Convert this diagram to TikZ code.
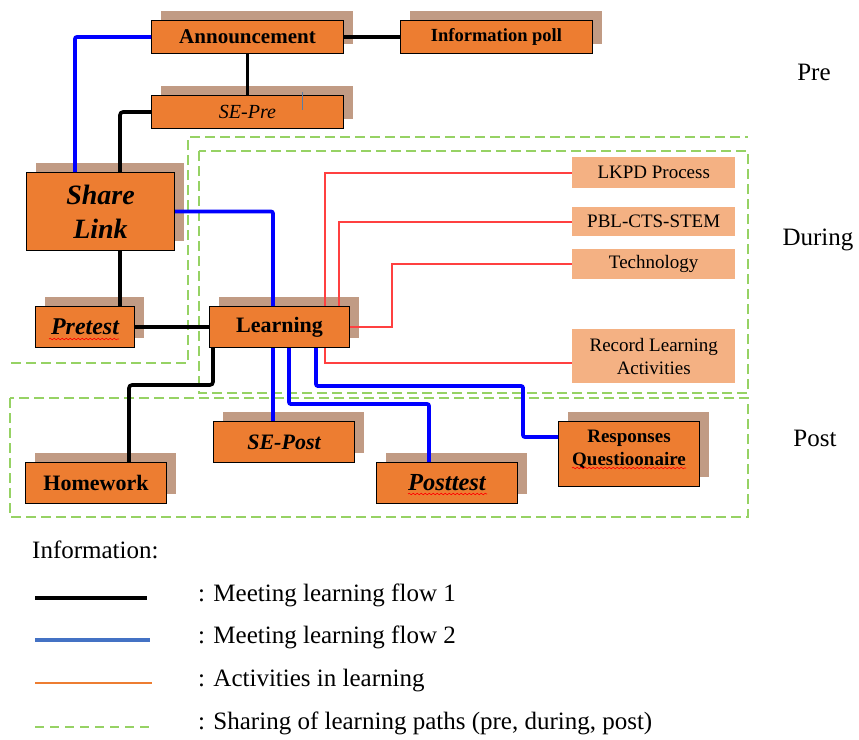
\documentclass[tikz,border=0pt]{standalone}
\usepackage{fontspec}
\setmainfont{Liberation Serif}
\usetikzlibrary{calc,shadows,decorations.pathmorphing}
\definecolor{boxor}{RGB}{237,125,49}
\definecolor{shad}{RGB}{193,155,132}
\definecolor{lightor}{RGB}{244,177,131}
\definecolor{gdash}{RGB}{150,210,100}
\definecolor{bluel}{RGB}{0,0,255}
\definecolor{legblue}{RGB}{68,114,196}
\definecolor{redl}{RGB}{255,64,64}
\definecolor{cursorc}{RGB}{90,125,165}
\tikzset{
  mainbox/.style={draw=black, line width=1pt, fill=boxor, inner sep=0pt, anchor=north west, align=center,
    general shadow={fill=shad, shadow xshift=9pt, shadow yshift=10pt}},
  actbox/.style={fill=lightor, inner sep=0pt, anchor=north west, align=center, font=\fontsize{19}{23}\selectfont},
  blkline/.style={draw=black, line width=3.6pt, rounded corners=3pt},
  bluline/.style={draw=bluel, line width=3.8pt, rounded corners=2pt},
  redline/.style={draw=redl, line width=1.6pt},
  grndash/.style={draw=gdash, line width=1.3pt, dash pattern=on 10pt off 5pt},
  lbl/.style={font=\fontsize{25}{30}\selectfont, inner sep=0pt},
  legtxt/.style={font=\fontsize{25}{30}\selectfont, inner sep=0pt, anchor=west},
  spellred/.style={draw=red, line width=0.6pt, decorate, decoration={snake, segment length=4pt, amplitude=0.8pt}}
}
\begin{document}
\begin{tikzpicture}[x=1pt,y=-1pt]
\useasboundingbox (0,0) rectangle (859,739);
% dashed regions
\draw[grndash] (11,363) -- (188,363) -- (188,137) -- (748,137);
\draw[grndash] (199,151) rectangle (748,393);
\draw[grndash] (10,398) rectangle (748,517);
% main boxes
\node[mainbox, minimum width=192pt, minimum height=33pt, font=\bfseries\fontsize{21}{25}\selectfont] (ann) at (151,20) {Announcement};
\node[mainbox, minimum width=192pt, minimum height=33pt, font=\bfseries\fontsize{18.5}{22}\selectfont] (info) at (400,20) {Information poll};
\node[mainbox, minimum width=192pt, minimum height=33pt, font=\itshape\fontsize{20}{24}\selectfont] (sepre) at (151,95) {SE-Pre};
\node[mainbox, minimum width=148pt, minimum height=78pt, font=\bfseries\itshape\fontsize{28}{34}\selectfont] (share) at (26,172) {Share\\Link};
\node[mainbox, minimum width=99pt, minimum height=41pt, font=\bfseries\itshape\fontsize{24}{28}\selectfont] (pretest) at (35,306) {Pretest};
\node[mainbox, minimum width=140pt, minimum height=41pt, font=\bfseries\fontsize{22}{26}\selectfont] (learn) at (209,306) {Learning};
\node[mainbox, minimum width=141pt, minimum height=41pt, font=\bfseries\itshape\fontsize{22}{26}\selectfont] (sepost) at (213,421) {SE-Post};
\node[mainbox, minimum width=141pt, minimum height=41pt, font=\bfseries\fontsize{22}{26}\selectfont] (hw) at (25,462) {Homework};
\node[mainbox, minimum width=141pt, minimum height=41pt, font=\bfseries\itshape\fontsize{24.5}{28}\selectfont] (posttest) at (376,462) {Posttest};
\node[mainbox, minimum width=141pt, minimum height=65pt, font=\bfseries\fontsize{19}{24}\selectfont] (resp) at (558,421) {\raisebox{5pt}[\height][\depth]{\begin{tabular}{@{}c@{}}Responses\\[-1pt]Questioonaire\end{tabular}}};
% activity boxes
\node[actbox, minimum width=163pt, minimum height=31pt] (lkpd) at (572,157) {LKPD Process};
\node[actbox, minimum width=163pt, minimum height=29pt] (pbl) at (572,207) {PBL-CTS-STEM};
\node[actbox, minimum width=163pt, minimum height=30pt] (tech) at (572,249) {Technology};
\node[actbox, minimum width=163pt, minimum height=54pt] (rec) at (572,329) {Record Learning\\Activities};
% black connectors (flow 1)
\draw[blkline] (ann.east) -- (info.west);
\draw[blkline] (ann.south) -- (sepre.north);
\draw[blkline] (sepre.west) -| ($(share.north west)+(94,0)$);
\draw[blkline] ($(share.south west)+(94,0)$) -- ($(pretest.north west)+(85,0)$);
\draw[blkline] (pretest.east) -- (learn.west);
\draw[blkline] ($(learn.south west)+(4,0)$) -- ++(0,37) -| ($(hw.north west)+(104,0)$);
% blue connectors (flow 2)
\draw[bluline] (ann.west) -| ($(share.north west)+(49,0)$);
\draw[bluline] (share.east) -| ($(learn.north west)+(64,0)$);
\draw[bluline] ($(learn.south west)+(64,0)$) -- ($(sepost.north west)+(60,0)$);
\draw[bluline] ($(learn.south west)+(80,0)$) -- ++(0,56) -| ($(posttest.north west)+(53,0)$);
\draw[bluline] ($(learn.south west)+(107,0)$) -- ++(0,38) -| ($(resp.north west)+(-35,16)$) -- ($(resp.north west)+(0,16)$);
% red connectors (activities)
\draw[redline] ($(learn.north west)+(116,0)$) |- (lkpd.west);
\draw[redline] ($(learn.north west)+(130,0)$) |- (pbl.west);
\draw[redline] (learn.east) -- ++(42,0) |- (tech.west);
\draw[redline] ($(learn.south west)+(116,0)$) |- ($(rec.west)+(0,7)$);
% spell-check marks and cursor
\draw[spellred] ($(pretest.south west)+(14,-9)$) -- ++(70,0);
\draw[spellred] ($(posttest.south west)+(32,-10)$) -- ++(79,0);
\draw[spellred] ($(resp.north west)+(14,47)$) -- ++(114,0);
\draw[cursorc, line width=0.8pt] ($(sepre.north west)+(151,-3)$) -- ++(0,18);
% phase labels
\node[lbl] (pre) at (814,72) {Pre};
\node[lbl] (during) at (818,240) {During};
\node[lbl] (post) at (815,438) {Post};
% legend
\node[legtxt] (info0) at (32,550) {Information:};
\coordinate (l1a) at (35,598); \coordinate (l1b) at (147,598);
\coordinate (l2a) at (35,640); \coordinate (l2b) at (150,640);
\coordinate (l3a) at (35,683); \coordinate (l3b) at (152,683);
\coordinate (l4a) at (35,727); \coordinate (l4b) at (152,727);
\draw[draw=black, line width=3.5pt] (l1a) -- (l1b);
\draw[draw=legblue, line width=3.8pt] (l2a) -- (l2b);
\draw[draw=boxor, line width=1.3pt] (l3a) -- (l3b);
\draw[grndash, dash pattern=on 9pt off 6pt] (l4a) -- (l4b);
\node[legtxt] (t1) at (198,595) {: Meeting learning flow 1};
\node[legtxt] (t2) at (198,637) {: Meeting learning flow 2};
\node[legtxt] (t3) at (198,681) {: Activities in learning};
\node[legtxt] (t4) at (198,723) {: Sharing of learning paths (pre, during, post)};
\end{tikzpicture}
\end{document}
